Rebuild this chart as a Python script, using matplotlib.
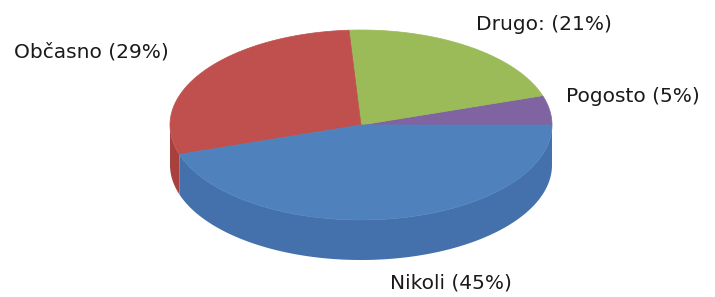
import numpy as np
import matplotlib.pyplot as plt
from matplotlib.patches import Polygon

# Data
labels = ['Pogosto (5%)', 'Drugo: (21%)', 'Občasno (29%)', 'Nikoli (45%)']
shares = [5, 21, 29, 45]
top_colors = ['#8064A2', '#9BBB59', '#C0504D', '#4F81BD']
side_colors = ['#6E5690', '#86A34A', '#A8413E', '#4470AB']

# pie geometry in pixel space
cx, cy, rx, ry, depth = 361, 125, 191, 95, 40

fig = plt.figure(figsize=(7.15, 2.97), dpi=100)
ax = fig.add_axes([0, 0, 1, 1])
ax.set_xlim(0, 715)
ax.set_ylim(297, 0)
ax.axis('off')


def arc(t0, t1, dy=0, n=200):
    t = np.radians(np.linspace(t0, t1, n))
    return np.column_stack([cx + rx * np.cos(t), cy - ry * np.sin(t) + dy])


bounds = np.concatenate([[0], np.cumsum(shares)]) * 3.6

# side walls (front half only)
for i in range(len(shares)):
    a0, a1 = max(bounds[i], 180), min(bounds[i + 1], 360)
    if a1 <= a0:
        continue
    top = arc(a0, a1)
    bot = arc(a1, a0, depth)
    ax.add_patch(Polygon(np.vstack([top, bot]), closed=True,
                         facecolor=side_colors[i], edgecolor='none'))

# top face
for i in range(len(shares)):
    pts = np.vstack([[cx, cy], arc(bounds[i], bounds[i + 1])])
    ax.add_patch(Polygon(pts, closed=True, facecolor=top_colors[i],
                         edgecolor=top_colors[i], linewidth=0.5))

# labels
txt = dict(fontsize=14.5, color='#1a1a1a', family='DejaVu Sans')
ax.text(566, 96, labels[0], ha='left', va='center', **txt)
ax.text(476, 24, labels[1], ha='left', va='center', **txt)
ax.text(14, 52, labels[2], ha='left', va='center', **txt)
ax.text(390, 283, labels[3], ha='left', va='center', **txt)

fig.savefig('out.png', dpi=100)
